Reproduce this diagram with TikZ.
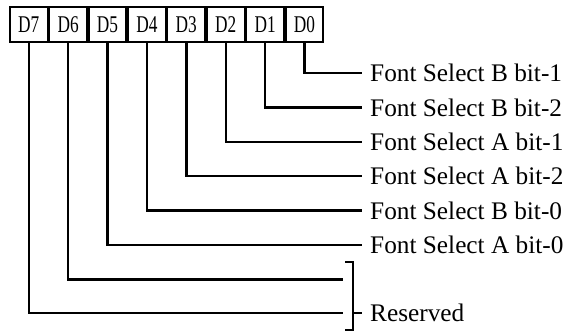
\documentclass[tikz,border=0pt]{standalone}
\usepackage{fontspec}
\setmainfont{Liberation Serif}
\begin{document}
\begin{tikzpicture}[x=1bp,y=-1bp,
  bitbox/.style={draw, line width=1.8bp, minimum width=37.6bp, minimum height=35bp, inner sep=0pt,
    font=\fontsize{24bp}{26bp}\selectfont},
  wire/.style={line width=2.4bp},
  lbl/.style={anchor=west, inner sep=0pt, font=\fontsize{25.3bp}{27bp}\selectfont}]
\useasboundingbox (0,0) rectangle (569,332);
% register bit boxes
\node[bitbox] (b7) at (28.7,24.5)  {\scalebox{0.72}[1]{D7}};
\node[bitbox] (b6) at (68.1,24.5)  {\scalebox{0.72}[1]{D6}};
\node[bitbox] (b5) at (107.5,24.5) {\scalebox{0.72}[1]{D5}};
\node[bitbox] (b4) at (146.9,24.5) {\scalebox{0.72}[1]{D4}};
\node[bitbox] (b3) at (186.3,24.5) {\scalebox{0.72}[1]{D3}};
\node[bitbox] (b2) at (225.7,24.5) {\scalebox{0.72}[1]{D2}};
\node[bitbox] (b1) at (265.1,24.5) {\scalebox{0.72}[1]{D1}};
\node[bitbox] (b0) at (304.5,24.5) {\scalebox{0.72}[1]{D0}};
% labels
\node[lbl] (l0) at (370,73)    {Font Select B bit-1};
\node[lbl] (l1) at (370,107.4) {Font Select B bit-2};
\node[lbl] (l2) at (370,141.8) {Font Select A bit-1};
\node[lbl] (l3) at (370,176.2) {Font Select A bit-2};
\node[lbl] (l4) at (370,210.6) {Font Select B bit-0};
\node[lbl] (l5) at (370,245)   {Font Select A bit-0};
\node[lbl] (lr) at (370,313)   {Reserved};
% connector ends
\coordinate (e6) at (343,279.4);
\coordinate (e7) at (343,313);
\coordinate (bt) at (345,262);
\coordinate (bb) at (345,330);
\coordinate (bx) at (353,313);
% connectors
\draw[wire] (b0.south) |- ([xshift=-8bp]l0.west);
\draw[wire] (b1.south) |- ([xshift=-8bp]l1.west);
\draw[wire] (b2.south) |- ([xshift=-8bp]l2.west);
\draw[wire] (b3.south) |- ([xshift=-8bp]l3.west);
\draw[wire] (b4.south) |- ([xshift=-8bp]l4.west);
\draw[wire] (b5.south) |- ([xshift=-8bp]l5.west);
\draw[wire] (b6.south) |- (e6);
\draw[wire] (b7.south) |- (e7);
% bracket
\draw[wire] (bt) -| (bx |- bb) -- (bb);
\draw[wire] (bx) -- ([xshift=-8bp]lr.west);
\end{tikzpicture}
\end{document}
